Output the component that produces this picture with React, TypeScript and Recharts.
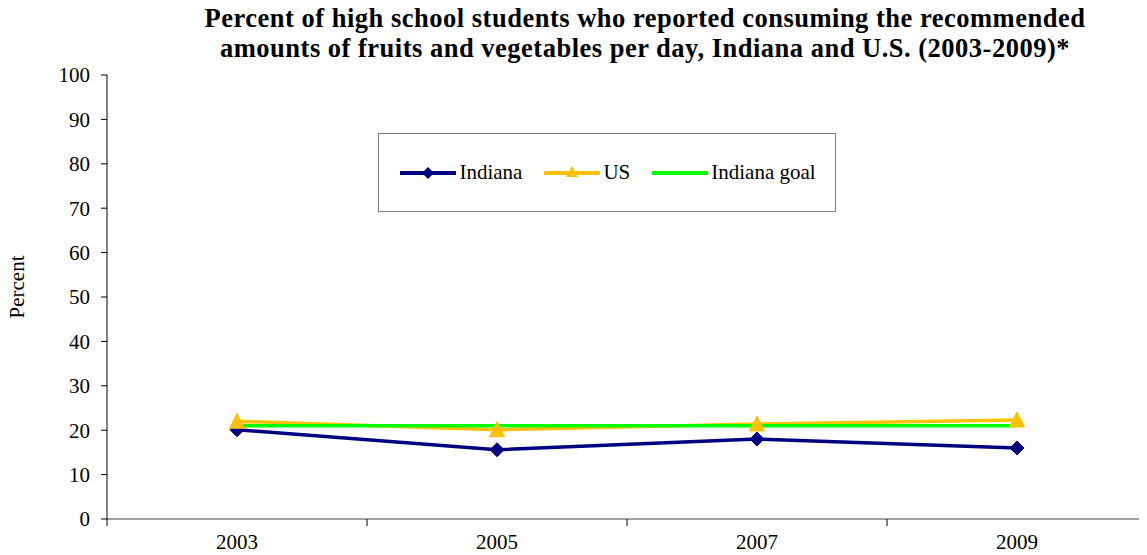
import React from 'react';
import { LineChart, Line, XAxis, YAxis, Legend } from 'recharts';

const years = ['2003', '2005', '2007', '2009'];
const indiana = [20.1, 15.6, 18.0, 16.0];
const us = [22.0, 20.1, 21.4, 22.3];
const indianaGoal = [21, 21, 21, 21];
const yTicks = [0, 10, 20, 30, 40, 50, 60, 70, 80, 90, 100];
const xTicks = [0, 0.5, 1, 1.5, 2, 2.5, 3, 3.5, 4];

const data = years.map((y, i) => ({
  x: i + 0.5,
  year: y,
  indiana: indiana[i],
  us: us[i],
  goal: indianaGoal[i],
}));

const FONT = "'Liberation Serif', 'Times New Roman', serif";
const NAVY = '#000080';
const GOLD = '#FFC000';
const GREEN = '#00FF00';

const Diamond = (props: any) => {
  const { cx, cy } = props;
  if (cx == null || cy == null) return null;
  const r = 7;
  return <polygon points={`${cx},${cy - r} ${cx + r},${cy} ${cx},${cy + r} ${cx - r},${cy}`} fill={NAVY} stroke={NAVY} />;
};

const Triangle = (props: any) => {
  const { cx, cy } = props;
  if (cx == null || cy == null) return null;
  return <polygon points={`${cx},${cy - 8} ${cx + 7.5},${cy + 7} ${cx - 7.5},${cy + 7}`} fill={GOLD} stroke={GOLD} />;
};

const XTick = (props: any) => {
  const { x, y, payload } = props;
  const v = payload.value;
  if (Number.isInteger(v)) {
    return <line x1={x} y1={y} x2={x} y2={y + 7} stroke="#000" strokeWidth={1} />;
  }
  return (
    <text x={x} y={y + 30} textAnchor="middle" fontFamily={FONT} fontSize={21} fill="#000">
      {years[Math.floor(v)]}
    </text>
  );
};

const YLabel = (props: any) => {
  const vb = props.viewBox || {};
  const cx = (vb.x || 0) + 17;
  const cy = (vb.y || 0) + (vb.height || 0) / 2 - 10;
  return (
    <text x={cx} y={cy} transform={`rotate(-90, ${cx}, ${cy})`} textAnchor="middle" dominantBaseline="central" fontFamily={FONT} fontSize={21} fill="#000">
      Percent
    </text>
  );
};

const legendItems = [
  { name: 'Indiana', color: NAVY, marker: 'diamond' },
  { name: 'US', color: GOLD, marker: 'triangle' },
  { name: 'Indiana goal', color: GREEN, marker: 'none' },
];

const LegendContent = () => (
  <div style={{ display: 'flex', alignItems: 'center', justifyContent: 'center', height: '100%', paddingLeft: 2 }}>
    {legendItems.map((it, i) => (
      <div key={it.name} style={{ display: 'flex', alignItems: 'center', marginLeft: i === 0 ? 0 : 22 }}>
        <svg width={56} height={20}>
          <line x1={1} y1={10} x2={55} y2={10} stroke={it.color} strokeWidth={4} strokeLinecap="round" />
          {it.marker === 'diamond' && <polygon points="28,4 34,10 28,16 22,10" fill={it.color} />}
          {it.marker === 'triangle' && <polygon points="28,3 34,14 22,14" fill={it.color} />}
        </svg>
        <span style={{ fontFamily: FONT, fontSize: 21, marginLeft: 3, color: '#000', whiteSpace: 'nowrap' }}>{it.name}</span>
      </div>
    ))}
  </div>
);

export default function App() {
  return (
    <div style={{ position: 'relative', width: 1147, height: 555, marginLeft: -8, marginTop: -8, overflow: 'hidden' }}>
      <LineChart width={1147} height={555} data={data} margin={{ top: 75, right: 0, bottom: 6, left: 0 }}>
        <XAxis
          type="number"
          dataKey="x"
          domain={[0, 4]}
          ticks={xTicks}
          interval={0}
          tick={<XTick />}
          tickLine={false}
          tickSize={0}
          tickMargin={0}
          axisLine={{ stroke: '#808080', strokeWidth: 1.5 }}
          height={30}
          allowDataOverflow
        />
        <YAxis
          type="number"
          domain={[0, 100]}
          ticks={yTicks}
          interval={0}
          width={107}
          tickSize={6}
          tickMargin={11}
          axisLine={{ stroke: '#000' }}
          tickLine={{ stroke: '#000' }}
          tick={{ fontFamily: FONT, fontSize: 21, fill: '#000' }}
          label={<YLabel />}
        />
        <Legend
          layout="horizontal"
          verticalAlign="middle"
          align="center"
          content={<LegendContent />}
          wrapperStyle={{
            position: 'absolute',
            left: 378,
            top: 133,
            width: 458,
            height: 79,
            border: '1px solid #808080',
            boxSizing: 'border-box',
            background: '#fff',
          }}
        />
        <Line type="linear" dataKey="indiana" name="Indiana" stroke={NAVY} strokeWidth={3.5} dot={<Diamond />} activeDot={false} isAnimationActive={false} />
        <Line type="linear" dataKey="us" name="US" stroke={GOLD} strokeWidth={3.5} dot={<Triangle />} activeDot={false} isAnimationActive={false} />
        <Line type="linear" dataKey="goal" name="Indiana goal" stroke={GREEN} strokeWidth={3.5} dot={false} activeDot={false} isAnimationActive={false} />
      </LineChart>
      <div
        style={{
          position: 'absolute',
          left: 145,
          top: 4,
          width: 1000,
          textAlign: 'center',
          fontFamily: FONT,
          fontWeight: 'bold',
          fontSize: 26.5,
          letterSpacing: '0.5px',
          lineHeight: '29.5px',
          color: '#000',
        }}
      >
        Percent of high school students who reported consuming the recommended
        <br />
        amounts of fruits and vegetables per day, Indiana and U.S. (2003-2009)*
      </div>
    </div>
  );
}
